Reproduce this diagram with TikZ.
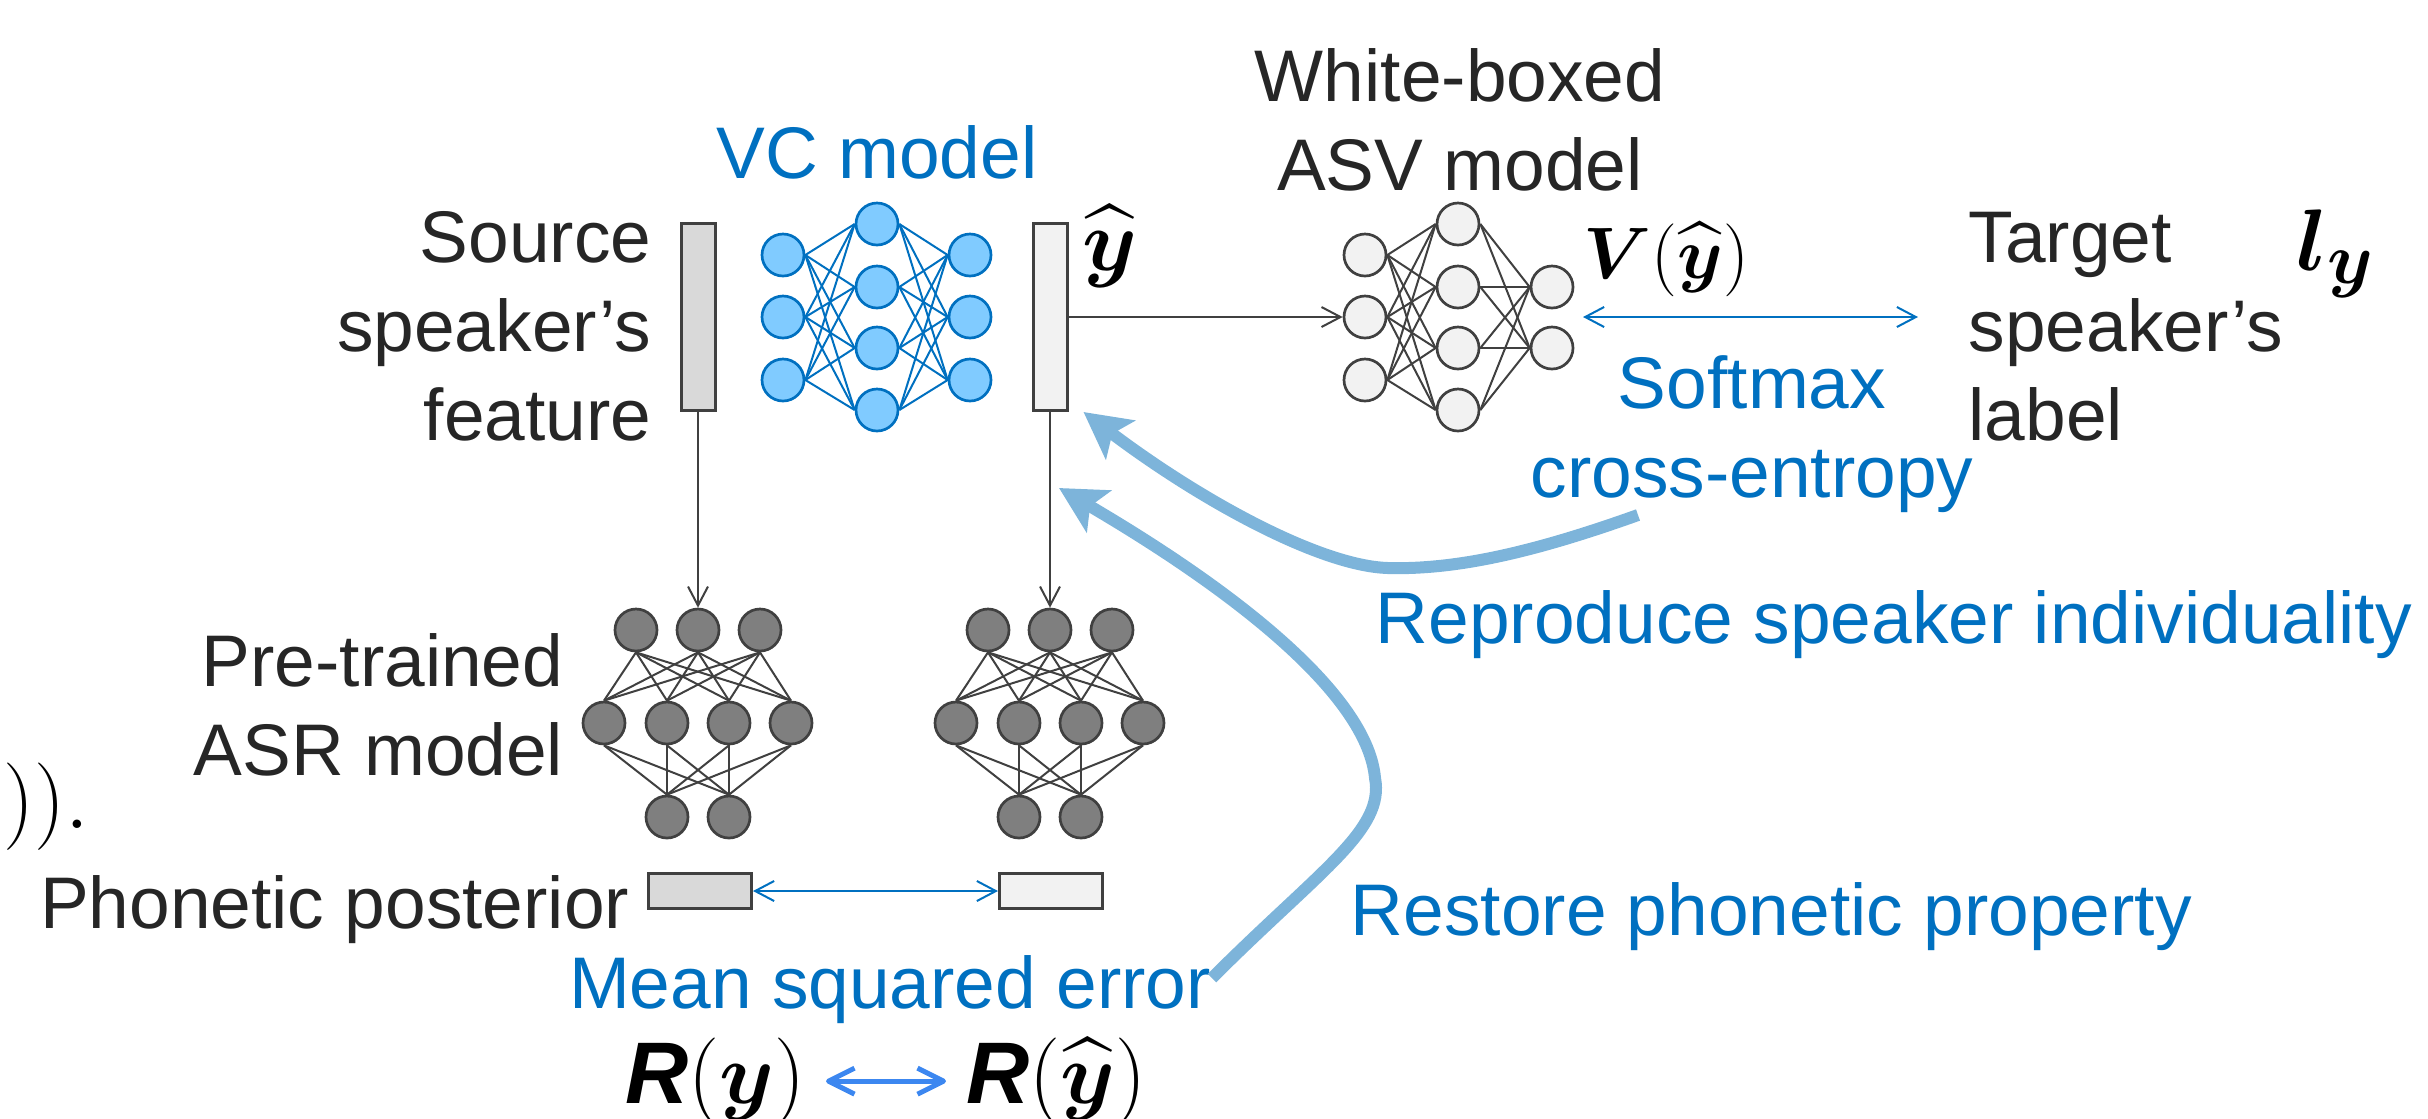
\documentclass[tikz,border=0pt]{standalone}
\usepackage{amsmath, amssymb}
\usepackage{fontspec}
\setmainfont{Liberation Sans}
\usetikzlibrary{arrows.meta, positioning}
\definecolor{mBlue}{HTML}{0070C0}
\definecolor{mSky}{HTML}{80CBFF}
\definecolor{mPale}{HTML}{F2F2F2}
\definecolor{mLight}{HTML}{D9D9D9}
\definecolor{mMid}{HTML}{7F7F7F}
\definecolor{mDark}{HTML}{404040}
\definecolor{mText}{HTML}{262626}
\definecolor{mFlow}{HTML}{7DB4DA}
\definecolor{mBright}{HTML}{3C87F0}

\begin{document}
\begin{tikzpicture}[x=0.1mm, y=-0.1mm,
    lbl/.style={font=\fontsize{20.8pt}{25.3pt}\selectfont, text=mText, inner sep=0pt},
    bluelbl/.style={lbl, text=mBlue},
    eq/.style={font=\fontsize{22pt}{26pt}\selectfont, inner sep=0pt},
    bigeq/.style={eq, font=\fontsize{24.88pt}{28pt}\selectfont},
    unit/.style={circle, line width=0.27mm, minimum size=4.2mm, inner sep=0pt},
    vcunit/.style={unit, draw=mBlue, fill=mSky},
    asvunit/.style={unit, draw=mDark, fill=mPale},
    asrunit/.style={unit, draw=mDark, fill=mMid},
    vcwire/.style={draw=mBlue, line width=0.2mm},
    wire/.style={draw=mDark, line width=0.2mm},
    featbar/.style={draw=mDark, line width=0.3mm, inner sep=0pt},
    feed/.style={draw=mDark, line width=0.2mm, -{Straight Barb[length=1.9mm, width=2mm]}},
    loss/.style={draw=mBlue, line width=0.2mm, {Straight Barb[length=1.9mm, width=2mm]}-{Straight Barb[length=1.9mm, width=2mm]}},
    flow/.style={draw=mFlow, line width=1.2mm, -{Stealth[length=4.6mm, width=4.8mm, inset=1mm]}},
  ]
  \useasboundingbox (0,0) rectangle (2428,1118);

  % feature bars
  \node[featbar, fill=mLight, minimum width=3.4mm, minimum height=18.7mm] (src) at (698,317) {};
  \node[featbar, fill=mPale, minimum width=3.4mm, minimum height=18.7mm] (yhat) at (1050,317) {};
  \node[featbar, fill=mLight, minimum width=10.3mm, minimum height=3.5mm] (ppsrc) at (700,891) {};
  \node[featbar, fill=mPale, minimum width=10.3mm, minimum height=3.5mm] (ppcnv) at (1051,891) {};

  % VC model
  \foreach \r/\y in {1/255, 2/317, 3/380} {
    \node[vcunit] (vca\r) at (783,\y) {};
    \node[vcunit] (vcc\r) at (970,\y) {};
  }
  \foreach \r/\y in {1/224, 2/287, 3/348, 4/410}
    \node[vcunit] (vcb\r) at (877,\y) {};
  \foreach \i in {1,2,3}
    \foreach \j in {1,...,4}
      \draw[vcwire] (vca\i.east) -- (vcb\j.west) (vcb\j.east) -- (vcc\i.west);

  % ASV model
  \foreach \r/\y in {1/255, 2/317, 3/380}
    \node[asvunit] (asva\r) at (1365,\y) {};
  \foreach \r/\y in {1/224, 2/287, 3/348, 4/410}
    \node[asvunit] (asvb\r) at (1458,\y) {};
  \foreach \r/\y in {1/287, 2/348}
    \node[asvunit] (asvc\r) at (1552,\y) {};
  \foreach \j in {1,...,4} {
    \foreach \i in {1,2,3}
      \draw[wire] (asva\i.east) -- (asvb\j.west);
    \foreach \k in {1,2}
      \draw[wire] (asvb\j.east) -- (asvc\k.west);
  }

  % ASR models
  \foreach \m/\c in {asrs/698, asrt/1050} {
    \foreach \k/\dx in {1/-62, 2/0, 3/62}
      \node[asrunit] (\m a\k) at (\c+\dx,630) {};
    \foreach \k/\dx in {1/-94, 2/-31, 3/31, 4/93}
      \node[asrunit] (\m b\k) at (\c+\dx,723) {};
    \foreach \k/\dx in {1/-31, 2/31}
      \node[asrunit] (\m c\k) at (\c+\dx,817) {};
    \foreach \j in {1,...,4} {
      \foreach \i in {1,2,3}
        \draw[wire] (\m a\i.south) -- (\m b\j.north);
      \foreach \k in {1,2}
        \draw[wire] (\m b\j.south) -- (\m c\k.north);
    }
  }

  % labels (base = last line)
  \node[bluelbl, anchor=base] (vclabel) at (877,178) {VC model};
  \node[lbl, anchor=base east, align=right] (srclabel) at (652,440) {Source\\speaker’s\\feature};
  \node[lbl, anchor=base, align=center] (asvlabel) at (1460,190) {White-boxed\\ASV model};
  \node[lbl, anchor=base west, align=left] (tgtlabel) at (1968,440) {Target\\speaker’s\\label};
  \node[bluelbl, anchor=base, align=center] (celabel) at (1752,497) {Softmax\\cross-entropy};
  \node[lbl, anchor=base east, align=right] (asrlabel) at (564,775) {Pre-trained\\ASR model};
  \node[lbl, anchor=base east] (pplabel) at (630,928) {Phonetic posterior};
  \node[bluelbl, anchor=base] (mselabel) at (890,1008) {Mean squared error};
  \node[bluelbl, anchor=base west] (spklabel) at (1375,643) {Reproduce speaker individuality};
  \node[bluelbl, anchor=base west] (phnlabel) at (1350,935) {Restore phonetic property};

  \node[bigeq, anchor=base west] (yhatsym) at (1082,270) {$\widehat{\boldsymbol{y}}$};
  \node[eq, anchor=base west] (vofy) at (1583,278) {$\boldsymbol{V}(\widehat{\boldsymbol{y}})$};
  \node[bigeq, anchor=base west] (ly) at (2296,270) {$\boldsymbol{l_y}$};
  \node[eq, anchor=base east, font=\fontsize{27.6pt}{30pt}\selectfont] (cutoff) at (90,828) {$)).$};
  \node[bigeq, anchor=base east] (ry) at (806,1103) {\textbf{\textit{R}}$(\boldsymbol{y})$};
  \node[bigeq, anchor=base west] (ryhat) at (966,1103) {\textbf{\textit{R}}$(\widehat{\boldsymbol{y}})$};

  % connectors
  \draw[feed] (src) -- (asrsa2);
  \draw[feed] (yhat) -- (asrta2);
  \draw[feed] (yhat) -- (asva2);
  \draw[loss] (asva2 -| vofy.west) -- ([xshift=-5mm]asva2 -| tgtlabel.west);
  \draw[loss] (ppsrc) -- (ppcnv);
  \draw[draw=mBright, line width=0.5mm, line cap=round,
        {Straight Barb[length=2.6mm, width=2.6mm, line join=round]}-{Straight Barb[length=2.6mm, width=2.6mm, line join=round]}]
    ([xshift=2mm]ry.east) -- ([xshift=-2mm]ryhat.west);

  \coordinate (spktail) at (1638,515);
  \coordinate (phntail) at (1212,978);
  \draw[flow] (spktail) .. controls (1540,550) and (1460,570) .. (1388,568)
    .. controls (1320,566) and (1200,500) .. ([xshift=1.5mm]yhat.south east);
  \draw[flow] (phntail) .. controls (1320,870) and (1385,830) .. (1375,778)
    .. controls (1368,700) and (1250,600) .. ([shift={(9,76)}]yhat.south);
\end{tikzpicture}
\end{document}
